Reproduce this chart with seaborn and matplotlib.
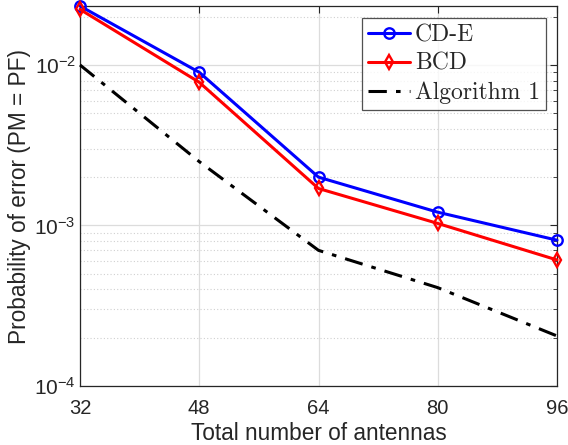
import os
import numpy as np
import pandas as pd
import seaborn as sns
import matplotlib
matplotlib.use("Agg")
import matplotlib.pyplot as plt
from matplotlib.ticker import LogLocator, NullFormatter, FixedLocator
from matplotlib.font_manager import FontProperties

antennas = [32, 48, 64, 80, 96]
cde = [0.0233, 0.0090, 0.0020, 0.00121, 0.00081]
bcd = [0.0222, 0.0078, 0.0017, 0.00103, 0.00061]
alg1 = [0.0100, 0.0025, 0.0007, 0.00041, 0.000205]
series_names = ["CD-E", "BCD", "Algorithm 1"]
ytick_vals = [1e-4, 1e-3, 1e-2]
ytick_labels = [r"$10^{-4}$", r"$10^{-3}$", r"$10^{-2}$"]

df = pd.DataFrame({
    "x": antennas * 3,
    "y": cde + bcd + alg1,
    "s": [series_names[0]] * 5 + [series_names[1]] * 5 + [series_names[2]] * 5,
})

sns.set_theme(style="white")
plt.rcParams["font.family"] = ["Liberation Sans", "DejaVu Sans"]
plt.rcParams["mathtext.fontset"] = "custom"
plt.rcParams["mathtext.rm"] = "Liberation Sans"
plt.rcParams["mathtext.it"] = "Liberation Sans"
plt.rcParams["mathtext.default"] = "regular"

fig = plt.figure(figsize=(5.68, 4.45), dpi=100)
ax = fig.add_axes([80 / 568, 1 - 386 / 445, 477 / 568, 380 / 445])

styles = {
    "CD-E": dict(color="#0000ff", marker="o", ls="-"),
    "BCD": dict(color="#ff0000", marker="d", ls="-"),
    "Algorithm 1": dict(color="black", marker=None, ls=(0, (6, 3, 1.5, 3))),
}
for name in series_names:
    st = styles[name]
    sub = df[df["s"] == name]
    sns.lineplot(data=sub, x="x", y="y", ax=ax, color=st["color"],
                 linestyle=st["ls"], marker=st["marker"], markersize=7.5,
                 markerfacecolor="none", markeredgecolor=st["color"],
                 markeredgewidth=1.7, linewidth=2.2, label=name,
                 clip_on=False, zorder=3)

ax.set_yscale("log")
ax.set_xlim(32, 96)
ax.set_ylim(1e-4, 0.0233)
ax.xaxis.set_major_locator(FixedLocator(antennas))
ax.yaxis.set_major_locator(FixedLocator(ytick_vals))
ax.yaxis.set_minor_locator(LogLocator(base=10, subs=np.arange(2, 10), numticks=20))
ax.yaxis.set_minor_formatter(NullFormatter())
ax.set_yticklabels(ytick_labels)

ax.grid(True, which="major", color="#dcdcdc", linewidth=0.9, linestyle="-")
ax.grid(True, which="minor", axis="y", color="#d0d0d0", linewidth=0.8, linestyle=(0, (1, 2)))
ax.set_axisbelow(True)

ax.tick_params(axis="both", which="both", direction="in", top=True, right=True,
               labelsize=15, colors="#262626")
ax.tick_params(axis="x", labelsize=14.5, pad=9)
ax.tick_params(axis="y", pad=3)
ax.tick_params(which="major", length=5, width=0.8)
ax.tick_params(which="minor", length=3, width=0.6)
for sp in ax.spines.values():
    sp.set_color("#262626")
    sp.set_linewidth(0.9)

ax.set_xlabel("Total number of antennas", fontsize=16.3, color="#262626", labelpad=3)
ax.set_ylabel("Probability of error (PM = PF)", fontsize=16.3, color="#262626", labelpad=2)

cm_path = os.path.join(matplotlib.get_data_path(), "fonts", "ttf", "cmr10.ttf")
leg_font = FontProperties(fname=cm_path, size=17)
leg = ax.legend(loc="upper right", bbox_to_anchor=(1 - 11 / 477, 1 - 12 / 380),
                prop=leg_font,
                frameon=True, fancybox=False, edgecolor="#262626",
                handlelength=1.8, handletextpad=0.2, borderpad=0.25,
                labelspacing=0.28, borderaxespad=0.0)
leg.get_frame().set_linewidth(0.9)

fig.savefig("out.png", dpi=100)
